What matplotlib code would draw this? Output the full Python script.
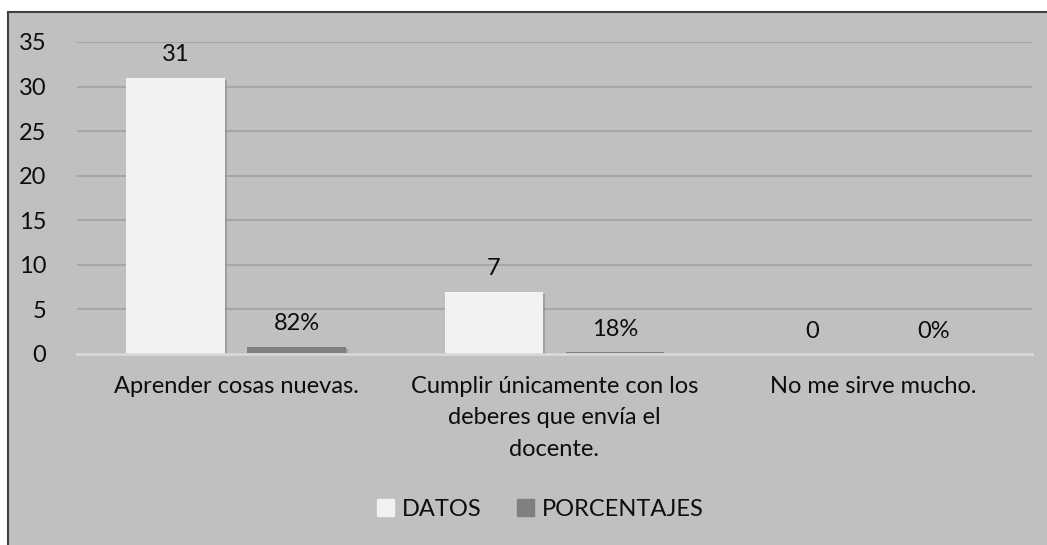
import numpy as np
import matplotlib
matplotlib.use("Agg")
import matplotlib.pyplot as plt
from matplotlib.patches import Rectangle
import matplotlib.patheffects as pe

# --- data ---
categorias = ["Aprender cosas nuevas.",
              "Cumplir únicamente con los\ndeberes que envía el\ndocente.",
              "No me sirve mucho."]
datos = [31, 7, 0]
porcentajes = [0.82, 0.18, 0.0]
etiquetas_datos = ["31", "7", "0"]
etiquetas_porc = ["82%", "18%", "0%"]
yticks = [0, 5, 10, 15, 20, 25, 30, 35]

plt.rcParams['font.family'] = ['Lato', 'DejaVu Sans']
fs = 17

fig = plt.figure(figsize=(10.47, 5.45), dpi=100, facecolor='white')

# gray chart area with dark border on left/top
W, H = 1047, 545
bg = Rectangle((8 / W, -0.01), 1.02, (H - 12) / H + 0.01, transform=fig.transFigure,
               facecolor='#c0c0c0', edgecolor='#404040', linewidth=1.5, zorder=-5)
fig.patches.append(bg)

ax = fig.add_axes([77 / W, (H - 354) / H, (1032 - 77) / W, (354 - 42) / H])
ax.set_facecolor('none')
ax.set_zorder(2)

x = np.arange(len(categorias))
w = 0.31
off = 0.19
shadow = [pe.SimplePatchShadow(offset=(1.5, -1.5), shadow_rgbFace='#8a8a8a', alpha=0.6), pe.Normal()]
b1 = ax.bar(x - off, datos, w, color='#f2f2f2', label='DATOS', zorder=3)
b2 = ax.bar(x + off, porcentajes, w, color='#808080', label='PORCENTAJES', zorder=3)
for b in list(b1) + list(b2):
    if b.get_height() > 0:
        b.set_path_effects(shadow)

for xi, v, t in zip(x - off, datos, etiquetas_datos):
    ax.annotate(t, (xi, v), xytext=(0, 9), textcoords='offset points',
                ha='center', va='bottom', fontsize=fs, color='#0d0d0d')
for xi, v, t in zip(x + off, porcentajes, etiquetas_porc):
    ax.annotate(t, (xi, v), xytext=(0, 9), textcoords='offset points',
                ha='center', va='bottom', fontsize=fs, color='#0d0d0d')

ax.set_xlim(-0.5, 2.5)
ax.set_ylim(0, 35)
ax.set_yticks(yticks)
ax.set_yticklabels([str(t) for t in yticks], fontsize=fs, color='#0d0d0d')
ax.set_xticks(x)
ax.set_xticklabels(categorias, fontsize=fs, color='#0d0d0d', linespacing=1.6, va='top')
ax.tick_params(axis='both', length=0)
ax.tick_params(axis='y', pad=22)
ax.tick_params(axis='x', pad=16)

for s in ['top', 'right', 'left']:
    ax.spines[s].set_visible(False)
ax.spines['bottom'].set_color('#d9d9d9')
ax.spines['bottom'].set_linewidth(2)
ax.spines['bottom'].set_zorder(4)
ax.grid(axis='y', color='#a6a6a6', linewidth=1.5, zorder=1)
ax.set_axisbelow(True)

leg = fig.legend(handles=[Rectangle((0, 0), 1, 1, color='#f2f2f2'),
                          Rectangle((0, 0), 1, 1, color='#808080')],
                 labels=['DATOS', 'PORCENTAJES'],
                 loc='center', bbox_to_anchor=(540 / W, (H - 509) / H), ncol=2,
                 frameon=False, fontsize=fs, handlelength=0.75, handleheight=0.75,
                 handletextpad=0.3, columnspacing=1.5)
for t in leg.get_texts():
    t.set_color('#0d0d0d')

fig.savefig('out.png', dpi=100, facecolor=fig.get_facecolor())
